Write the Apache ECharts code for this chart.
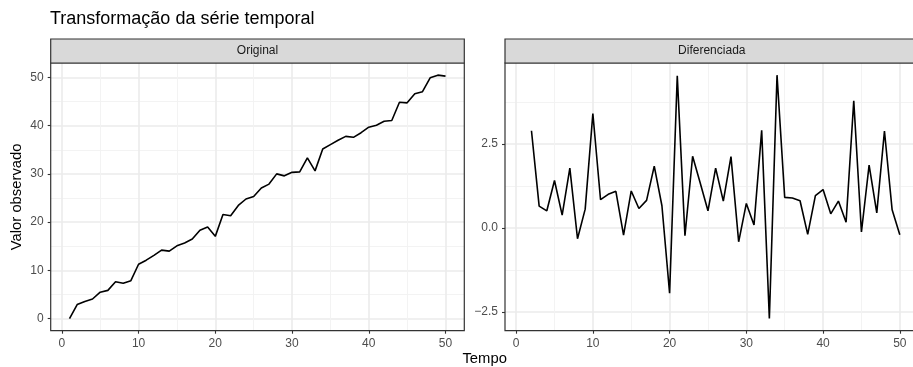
<!DOCTYPE html>
<html>
<head>
<meta charset="utf-8">
<script src="https://cdn.jsdelivr.net/npm/echarts@6/dist/echarts.min.js"></script>
<style>
  html, body { margin: 0; padding: 0; background: #ffffff; }
  #chart { width: 913px; height: 367px; }
</style>
</head>
<body>
<div id="chart"></div>
<script>
// ---- data ----
const tempoOriginal = [1, 2, 3, 4, 5, 6, 7, 8, 9, 10, 11, 12, 13, 14, 15, 16, 17, 18, 19, 20,
  21, 22, 23, 24, 25, 26, 27, 28, 29, 30, 31, 32, 33, 34, 35, 36, 37, 38, 39, 40,
  41, 42, 43, 44, 45, 46, 47, 48, 49, 50];
const valoresOriginal = [0, 2.89, 3.54, 4.05, 5.46, 5.84, 7.62, 7.30, 7.86, 11.26,
  12.10, 13.10, 14.19, 13.98, 15.08, 15.66, 16.48, 18.32, 18.98, 17.04,
  21.56, 21.33, 23.46, 24.79, 25.30, 27.08, 27.88, 30.00, 29.59, 30.32,
  30.41, 33.31, 30.62, 35.16, 36.07, 36.96, 37.77, 37.58, 38.54, 39.68,
  40.10, 40.90, 41.07, 44.85, 44.73, 46.60, 47.05, 49.93, 50.47, 50.27];

const tempoDiferenciada = [2, 3, 4, 5, 6, 7, 8, 9, 10, 11, 12, 13, 14, 15, 16, 17, 18, 19, 20,
  21, 22, 23, 24, 25, 26, 27, 28, 29, 30, 31, 32, 33, 34, 35, 36, 37, 38, 39, 40,
  41, 42, 43, 44, 45, 46, 47, 48, 49, 50];
const valoresDiferenciada = [2.89, 0.65, 0.51, 1.41, 0.38, 1.78, -0.32, 0.56, 3.40,
  0.84, 1.00, 1.09, -0.21, 1.10, 0.58, 0.82, 1.84, 0.66, -1.94,
  4.52, -0.23, 2.13, 1.33, 0.51, 1.78, 0.80, 2.12, -0.41, 0.73,
  0.09, 2.90, -2.69, 4.54, 0.91, 0.89, 0.81, -0.19, 0.96, 1.14,
  0.42, 0.80, 0.17, 3.78, -0.12, 1.87, 0.45, 2.88, 0.54, -0.20];

const ticksX = [0, 10, 20, 30, 40, 50];
const ticksXMinor = [5, 15, 25, 35, 45];
const ticksYOriginal = [0, 10, 20, 30, 40, 50];
const ticksYOriginalMinor = [5, 15, 25, 35, 45];
const ticksYDiferenciada = [-2.5, 0, 2.5];
const ticksYDiferenciadaMinor = [-1.25, 1.25, 3.75];

const panelNames = ['Original', 'Diferenciada'];
const chartTitle = 'Transformação da série temporal';
const xTitle = 'Tempo';
const yTitle = 'Valor observado';

// ---- layout ----
const FONT = '"Liberation Sans", Arial, Helvetica, sans-serif';
const layout = {
  stripTop: 39,
  top: 63,
  height: 267.7,
  panels: [{ left: 50.7, width: 413.6 }, { left: 505, width: 413.6 }]
};

// ggplot-style 5% padding around the data range
function expanded(values) {
  const lo = Math.min.apply(null, values);
  const hi = Math.max.apply(null, values);
  const pad = (hi - lo) * 0.05;
  return [lo - pad, hi + pad];
}

const xRange = expanded(tempoOriginal.concat(tempoDiferenciada));
const yRanges = [expanded(valoresOriginal), expanded(valoresDiferenciada)];
const yMajor = [ticksYOriginal, ticksYDiferenciada];
const yMinor = [ticksYOriginalMinor, ticksYDiferenciadaMinor];
const yFormat = [v => String(v), v => (v < 0 ? '\u2212' : '') + Math.abs(v).toFixed(1)];
const seriesData = [
  tempoOriginal.map((t, i) => [t, valoresOriginal[i]]),
  tempoDiferenciada.map((t, i) => [t, valoresDiferenciada[i]])
];

const grids = [], xAxes = [], yAxes = [], series = [], graphics = [];

function majorAxis(gridIndex, range, ticks, fmt) {
  return {
    gridIndex, type: 'value', min: range[0], max: range[1],
    axisLine: { show: false, onZero: false },
    axisTick: { show: true, customValues: ticks, length: 3, lineStyle: { color: '#333333', width: 1.1 } },
    axisLabel: { customValues: ticks, color: '#4d4d4d', fontSize: 12, fontFamily: FONT, margin: 7,
                 formatter: fmt },
    splitLine: { show: true, lineStyle: { color: '#ebebeb', width: 1.6 } },
    minorTick: { show: false }, minorSplitLine: { show: false }
  };
}
function minorAxis(gridIndex, range, ticks) {
  return {
    gridIndex, type: 'value', min: range[0], max: range[1],
    axisLine: { show: false, onZero: false },
    axisTick: { show: false, customValues: ticks },
    axisLabel: { show: false, customValues: ticks },
    splitLine: { show: true, lineStyle: { color: '#f2f2f2', width: 0.9 } }
  };
}

panelNames.forEach((name, p) => {
  const pl = layout.panels[p];
  grids.push({ left: pl.left, top: layout.top, width: pl.width, height: layout.height,
               show: false, outerBoundsMode: 'none', containLabel: false });

  // minor lines first so the major lines sit over them
  xAxes.push(minorAxis(p, xRange, ticksXMinor));
  yAxes.push(minorAxis(p, yRanges[p], yMinor[p]));

  const xIdx = xAxes.length;
  xAxes.push(Object.assign(majorAxis(p, xRange, ticksX, v => String(v)), { position: 'bottom' }));
  const yIdx = yAxes.length;
  yAxes.push(Object.assign(majorAxis(p, yRanges[p], yMajor[p], yFormat[p]), { position: 'left' }));

  series.push({
    type: 'line', name, xAxisIndex: xIdx, yAxisIndex: yIdx,
    data: seriesData[p], showSymbol: false, symbol: 'none', smooth: false,
    lineStyle: { color: '#000000', width: 1.6 }, z: 5, silent: true
  });

  // panel frame
  graphics.push({
    type: 'rect', z: 100, silent: true,
    shape: { x: pl.left, y: layout.top, width: pl.width, height: layout.height },
    style: { fill: 'none', stroke: '#333333', lineWidth: 1.2 }
  });
  // facet strip
  graphics.push({
    type: 'rect', z: 100, silent: true,
    shape: { x: pl.left, y: layout.stripTop, width: pl.width, height: layout.top - layout.stripTop },
    style: { fill: '#d9d9d9', stroke: '#333333', lineWidth: 1.2 }
  });
  graphics.push({
    type: 'text', z: 101, silent: true,
    x: pl.left + pl.width / 2, y: (layout.stripTop + layout.top) / 2,
    style: { text: name, fill: '#1a1a1a', font: '12px ' + FONT, textAlign: 'center', textVerticalAlign: 'middle' }
  });
});

// axis titles
const plotLeft = layout.panels[0].left;
const plotRight = layout.panels[1].left + layout.panels[1].width;
graphics.push({
  type: 'text', z: 101, silent: true,
  x: (plotLeft + plotRight) / 2, y: 359,
  style: { text: xTitle, fill: '#000000', font: '14.8px ' + FONT, textAlign: 'center', textVerticalAlign: 'middle' }
});
graphics.push({
  type: 'text', z: 101, silent: true,
  x: 17, y: layout.top + layout.height / 2, rotation: Math.PI / 2,
  style: { text: yTitle, fill: '#000000', font: '14.8px ' + FONT, textAlign: 'center', textVerticalAlign: 'middle' }
});

const chart = echarts.init(document.getElementById('chart'), null, { renderer: 'canvas' });
chart.setOption({
  animation: false,
  backgroundColor: '#ffffff',
  title: {
    text: chartTitle, left: 50, top: 10, padding: 0,
    textStyle: { fontSize: 18, fontWeight: 'normal', color: '#000000', fontFamily: FONT }
  },
  grid: grids,
  xAxis: xAxes,
  yAxis: yAxes,
  series: series,
  graphic: graphics
});
</script>
</body>
</html>
